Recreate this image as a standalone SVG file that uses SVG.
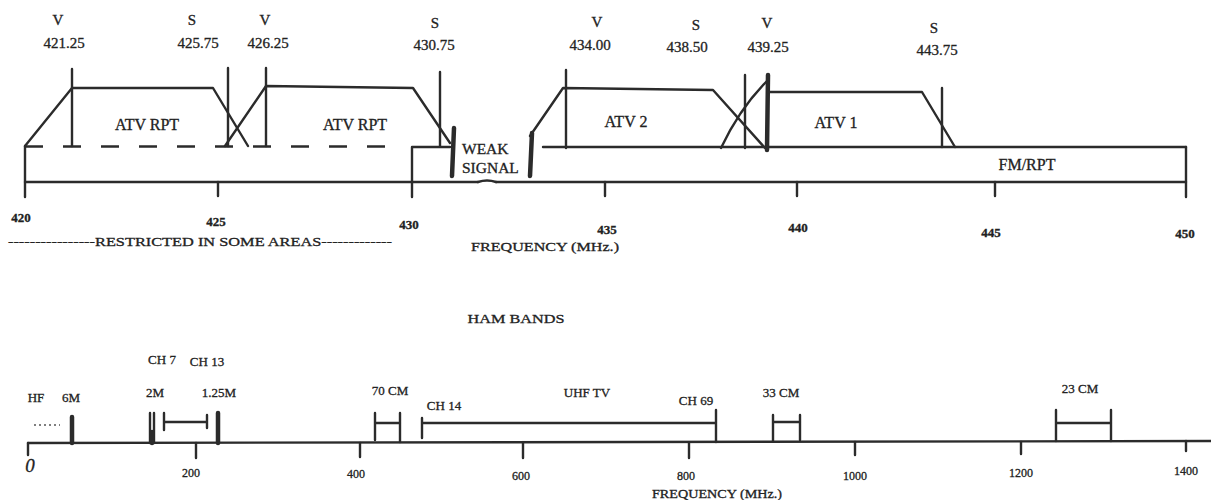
<svg xmlns="http://www.w3.org/2000/svg" width="1211" height="500" viewBox="0 0 1211 500">
<style>
  .ln{stroke:#2b2b2b;stroke-width:2.4;fill:none;stroke-linecap:round;stroke-linejoin:round}
  .thk{stroke:#2b2b2b;stroke-width:4.5;fill:none;stroke-linecap:round}
  .dash{stroke:#2b2b2b;stroke-width:2.6;fill:none;stroke-dasharray:18 20}
  text{font-family:"Liberation Serif","Times New Roman",serif;fill:#222;stroke:#222;stroke-width:0.3}
  .lab{font-size:15px;text-anchor:middle}
  .big{font-size:16px;text-anchor:middle}
  .tk{font-size:13px;text-anchor:middle;font-weight:bold}
  .sm{font-size:13px;text-anchor:middle}
  .num{font-size:12px;text-anchor:middle}
</style>
<rect width="1211" height="500" fill="#ffffff"/>

<!-- ===== TOP CHART: 420-450 MHz ===== -->
<g id="top-axis">
  <path class="dash" d="M25,146.5 L398,146.5"/>
  <path class="ln" d="M25,146 L25,197"/>
  <path class="ln" d="M25,182 L478,182 M496,182 L1186,182"/>
  <path class="ln" d="M478,182 q9,-3 18,0" stroke-width="1.2"/>
  <path class="ln" d="M218,182 L218,196 M605,182 L605,196 M797,182 L797,196 M995,182 L995,196"/>
  <path class="ln" d="M1186,147 L1186,197"/>
  <text class="tk" x="21" y="222">420</text>
  <text class="tk" x="216" y="226">425</text>
  <text class="tk" x="409" y="229">430</text>
  <text class="tk" x="607" y="234">435</text>
  <text class="tk" x="798" y="232">440</text>
  <text class="tk" x="991" y="237">445</text>
  <text class="tk" x="1185" y="238">450</text>
  <text x="8" y="246" font-size="13" textLength="384" lengthAdjust="spacingAndGlyphs">----------------RESTRICTED  IN SOME AREAS-------------</text>
  <text x="471" y="251" font-size="13" textLength="148" lengthAdjust="spacingAndGlyphs">FREQUENCY (MHz.)</text>
</g>

<g id="atv-rpt-1">
  <path class="ln" d="M25,146 L72,88 L213,88 L248,146"/>
  <path class="ln" d="M72,69 L72,146"/>
  <path class="ln" d="M228,68 L228,146"/>
  <text class="big" x="147" y="130">ATV RPT</text>
  <text class="lab" x="58" y="25">V</text>
  <text class="lab" x="64" y="48">421.25</text>
  <text class="lab" x="192" y="25">S</text>
  <text class="lab" x="198" y="48">425.75</text>
</g>

<g id="atv-rpt-2">
  <path class="ln" d="M225,146 L266,86 L413,88 L450,143"/>
  <path class="ln" d="M266,68 L266,146"/>
  <path class="ln" d="M440,72 L440,146"/>
  <text class="big" x="355" y="130">ATV RPT</text>
  <text class="lab" x="265" y="25">V</text>
  <text class="lab" x="268" y="48">426.25</text>
  <text class="lab" x="435" y="28">S</text>
  <text class="lab" x="434" y="50">430.75</text>
</g>

<g id="weak-signal">
  <path class="ln" d="M412,197 L412,147 L450,147"/>
  <path class="thk" d="M454,128 L452,176"/>
  <path class="thk" d="M532,133 L530,176"/>
  <text x="462" y="154" font-size="15.5">WEAK</text>
  <text x="462" y="173" font-size="15.5">SIGNAL</text>
</g>

<g id="atv-2">
  <path class="ln" d="M530,136 L563,88 L713,90 L765,148"/>
  <path class="ln" d="M543,147 L1186,147"/>
  <path class="ln" d="M566,70 L566,148"/>
  <path class="ln" d="M745,75 L745,148"/>
  <text class="big" x="626" y="127">ATV 2</text>
  <text class="lab" x="597" y="27">V</text>
  <text class="lab" x="590" y="50">434.00</text>
  <text class="lab" x="696" y="30">S</text>
  <text class="lab" x="687" y="52">438.50</text>
</g>

<g id="atv-1">
  <path class="ln" d="M721,148 Q740,108 768,80"/>
  <path class="thk" d="M768,75 L767,150" stroke-width="3.4"/>
  <path class="ln" d="M768,92 L922,92 L955,147"/>
  <path class="ln" d="M942,88 L942,147"/>
  <text class="big" x="836" y="128">ATV 1</text>
  <text class="lab" x="767" y="28">V</text>
  <text class="lab" x="768" y="52">439.25</text>
  <text class="lab" x="934" y="33">S</text>
  <text class="lab" x="937" y="55">443.75</text>
</g>

<g id="fm-rpt">
  <text class="big" x="1027" y="170">FM/RPT</text>
</g>

<!-- ===== BOTTOM CHART: HAM BANDS ===== -->
<g id="bottom-axis">
  <text x="516" y="323" font-size="13.5" text-anchor="middle" textLength="97" lengthAdjust="spacingAndGlyphs">HAM BANDS</text>
  <path class="ln" d="M28,443 L1211,441"/>
  <path class="ln" d="M28,443 L28,455"/>
  <path class="ln" d="M196,443 L196,458 M360,443 L360,457 M523,443 L523,458 M689,443 L689,458 M855,442 L855,455 M1021,442 L1021,454 M1186,441 L1186,451"/>
  <text x="30" y="472" font-size="19" font-style="italic" text-anchor="middle">0</text>
  <text class="num" x="191" y="477">200</text>
  <text class="num" x="356" y="478">400</text>
  <text class="num" x="521" y="480">600</text>
  <text class="num" x="686" y="480">800</text>
  <text class="num" x="855" y="480">1000</text>
  <text class="num" x="1021" y="477">1200</text>
  <text class="num" x="1186" y="475">1400</text>
  <text x="717" y="498" font-size="12.5" text-anchor="middle" textLength="130" lengthAdjust="spacingAndGlyphs">FREQUENCY (MHz.)</text>
</g>

<g id="hf">
  <text class="sm" x="36" y="402">HF</text>
  <path d="M34,425 L60,425" stroke="#555" stroke-width="1.5" stroke-dasharray="2 3" fill="none"/>
</g>

<g id="band-6m">
  <text class="sm" x="71" y="402">6M</text>
  <path class="thk" d="M72,417 L72,443"/>
</g>

<g id="band-2m">
  <text class="sm" x="155" y="397">2M</text>
  <path class="ln" d="M150,413 L150,443 M154,413 L154,443"/>
  <path class="thk" d="M152,432 L152,443" stroke-width="3"/>
</g>

<g id="vhf-tv">
  <text class="sm" x="162" y="364">CH 7</text>
  <text class="sm" x="207" y="366">CH 13</text>
  <path class="ln" d="M164,413 L164,430 M164,422 L207,422 M207,415 L207,428"/>
</g>

<g id="band-125m">
  <text class="sm" x="219" y="397">1.25M</text>
  <path class="thk" d="M218,413 L218,443"/>
</g>

<g id="band-70cm">
  <text class="sm" x="390" y="395">70 CM</text>
  <path class="ln" d="M375,413 L375,440 M375,423 L400,423 M400,413 L400,442"/>
</g>

<g id="uhf-tv">
  <text class="sm" x="444" y="410">CH 14</text>
  <text class="sm" x="587" y="397">UHF TV</text>
  <text class="sm" x="696" y="405">CH 69</text>
  <path class="ln" d="M422,418 L422,438 M422,423 L716,423 M716,410 L716,442"/>
</g>

<g id="band-33cm">
  <text class="sm" x="781" y="397">33 CM</text>
  <path class="ln" d="M773,415 L773,441 M773,422 L800,422 M800,415 L800,440"/>
</g>

<g id="band-23cm">
  <text class="sm" x="1080" y="393">23 CM</text>
  <path class="ln" d="M1056,410 L1056,441 M1056,423 L1111,423 M1111,410 L1111,441"/>
</g>

<g id="connectors"></g>
</svg>
